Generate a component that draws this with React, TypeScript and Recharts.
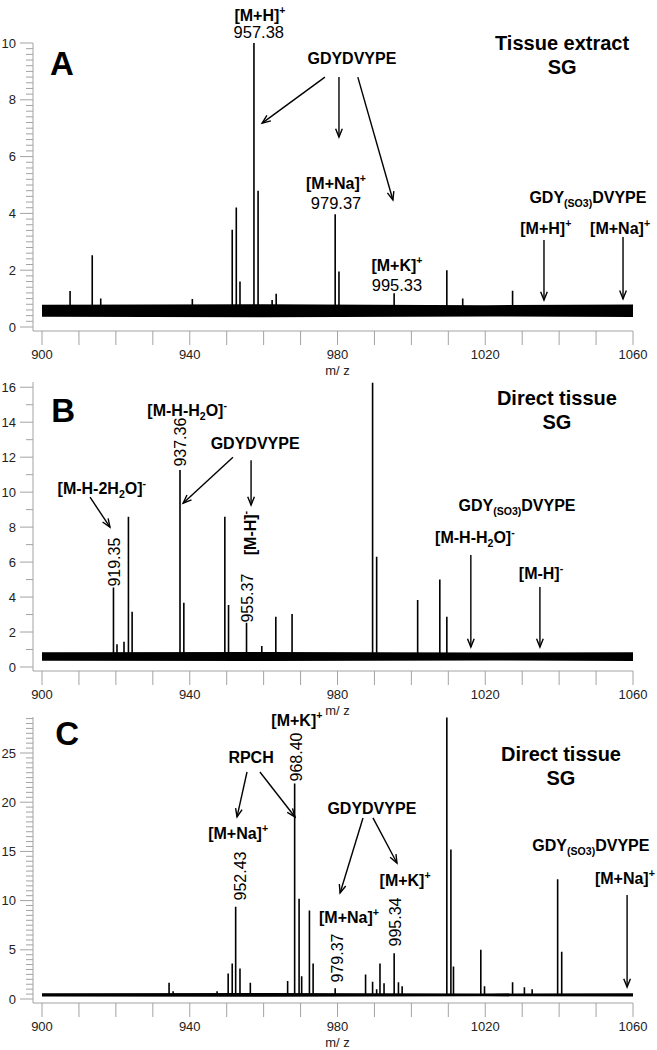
import { Area, ComposedChart, Line, ReferenceDot, ReferenceLine, XAxis, YAxis } from 'recharts';

const FONT = '"Liberation Sans", Arial, Helvetica, sans-serif';
const AXIS_GRAY = '#a3a3a3';

// m/z axis
const mzTicks = [900, 910, 920, 930, 940, 950, 960, 970, 980, 990, 1000, 1010, 1020, 1030, 1040, 1050, 1060];
const mzLabels = [900, 940, 980, 1020, 1060];

// intensity axes (labelled ticks)
const yMajorA = [0, 2, 4, 6, 8, 10];
const yMajorB = [0, 2, 4, 6, 8, 10, 12, 14, 16];
const yMajorC = [0, 5, 10, 15, 20, 25];

// peaks: [m/z, intensity]
const peaksA: [number, number][] = [
  [907.6, 1.27], [913.6, 2.53], [915.9, 1.0], [940.7, 0.99], [951.5, 3.42], [952.6, 4.21],
  [953.6, 1.6], [957.38, 10.0], [958.5, 4.8], [962.3, 0.95], [963.4, 1.17], [979.37, 3.97],
  [980.4, 1.95], [995.33, 1.19], [1009.6, 2.0], [1013.9, 1.0], [1027.4, 1.28],
];
const peaksB: [number, number][] = [
  [919.35, 4.55], [920.3, 1.3], [922.2, 1.45], [923.4, 8.6], [924.4, 3.16], [937.36, 11.26],
  [938.4, 3.68], [949.5, 8.6], [950.5, 3.54], [955.37, 2.53], [959.5, 1.2], [963.3, 2.87],
  [967.7, 3.03], [989.5, 16.25], [990.6, 6.3], [1001.7, 3.83], [1007.7, 5.0], [1009.6, 2.87],
];
const peaksC: [number, number][] = [
  [934.4, 1.66], [935.5, 0.8], [947.4, 0.8], [950.4, 2.6], [951.5, 3.6], [952.43, 9.38],
  [953.6, 3.1], [956.4, 1.66], [966.5, 1.83], [968.4, 21.9], [969.6, 10.2], [970.3, 2.3],
  [972.4, 9.0], [973.4, 3.6], [979.37, 1.1], [987.6, 2.5], [989.5, 1.76], [990.6, 1.0],
  [991.5, 3.6], [992.6, 1.6], [995.34, 4.64], [996.5, 1.7], [997.5, 1.3], [1009.6, 28.6],
  [1010.7, 15.2], [1011.4, 3.3], [1018.8, 5.0], [1019.8, 1.3], [1027.4, 1.7], [1030.6, 1.2],
  [1032.7, 1.0], [1039.6, 12.16], [1040.7, 4.8],
];

// baseline noise envelope: [m/z, low, high]
const noiseA: [number, number, number][] = [[900, 0.36, 0.78], [960, 0.34, 0.8], [1020, 0.37, 0.77], [1060, 0.35, 0.79]];
const noiseB: [number, number, number][] = [[900, 0.36, 0.84], [960, 0.34, 0.86], [1020, 0.37, 0.83], [1060, 0.35, 0.85]];
const noiseC: [number, number, number][] = [[900, 0.26, 0.58], [960, 0.24, 0.6], [1020, 0.27, 0.57], [1060, 0.25, 0.58]];

// annotations in data coords: [m/z, intensity, text, style]
type Note = [number, number, string, string];
const notesA: Note[] = [
  [905.4, 9.3, 'A', 'letter'],
  [959.0, 10.99, '[M+H]^+', 'bold'],
  [958.7, 10.39, '957.38', 'num'],
  [983.9, 9.47, 'GDYDVYPE', 'bold'],
  [1040.8, 10.0, 'Tissue extract', 'title'],
  [1040.8, 9.15, 'SG', 'title'],
  [979.6, 5.07, '[M+Na]^+', 'bold'],
  [979.6, 4.37, '979.37', 'num'],
  [996.1, 2.18, '[M+K]^+', 'bold'],
  [996.1, 1.48, '995.33', 'num'],
  [1047.8, 4.58, 'GDY_(SO3)DVYPE', 'bold'],
  [1036.4, 3.49, '[M+H]^+', 'bold'],
  [1056.5, 3.49, '[M+Na]^+', 'bold'],
];
const notesB: Note[] = [
  [905.7, 14.69, 'B', 'letter'],
  [939.3, 14.69, '[M-H-H_2O]^-', 'bold'],
  [937.4, 12.86, '937.36', 'rot'],
  [957.7, 12.8, 'GDYDVYPE', 'bold'],
  [956.3, 7.66, '[M-H]^-', 'rotbold'],
  [916.2, 10.23, '[M-H-2H_2O]^-', 'bold'],
  [919.5, 6.0, '919.35', 'rot'],
  [955.5, 3.94, '955.37', 'rot'],
  [1039.4, 15.37, 'Direct tissue', 'title'],
  [1039.4, 14.0, 'SG', 'title'],
  [1028.6, 9.26, 'GDY_(SO3)DVYPE', 'bold'],
  [1017.2, 7.43, '[M-H-H_2O]^-', 'bold'],
  [1035.1, 5.37, '[M-H]^-', 'bold'],
];
const notesC: Note[] = [
  [906.8, 27.03, 'C', 'letter'],
  [969.0, 28.35, '[M+K]^+', 'bold'],
  [968.8, 24.6, '968.40', 'rot'],
  [956.6, 24.6, 'RPCH', 'bold'],
  [953.1, 16.87, '[M+Na]^+', 'bold'],
  [953.6, 12.5, '952.43', 'rot'],
  [989.3, 19.41, 'GDYDVYPE', 'bold'],
  [983.1, 8.33, '[M+Na]^+', 'bold'],
  [979.9, 4.17, '979.37', 'rot'],
  [998.3, 12.09, '[M+K]^+', 'bold'],
  [995.6, 7.83, '995.34', 'rot'],
  [1040.5, 24.9, 'Direct tissue', 'title'],
  [1040.5, 22.46, 'SG', 'title'],
  [1048.6, 15.65, 'GDY_(SO3)DVYPE', 'bold'],
  [1057.8, 12.3, '[M+Na]^+', 'bold'],
];

// arrows: [fromMz, fromI, toMz, toI]
const arrowsA = [
  [976.6, 8.8, 959.6, 7.18], [980.4, 8.8, 980.4, 6.69], [985.5, 8.8, 995.0, 4.47],
  [1035.9, 3.06, 1035.9, 0.95], [1057.3, 3.17, 1057.3, 0.99],
];
const arrowsB = [
  [913.0, 9.71, 918.4, 8.0], [951.7, 12.0, 938.2, 9.37], [956.6, 11.83, 956.6, 9.26],
  [1016.1, 6.4, 1016.1, 1.14], [1034.8, 4.57, 1034.8, 1.14],
];
const arrowsC = [
  [955.5, 23.07, 952.8, 18.5], [959.0, 23.07, 968.5, 18.5], [986.9, 18.4, 980.7, 10.77],
  [989.6, 18.4, 996.1, 13.82], [1058.4, 10.57, 1058.4, 1.22],
];

const STYLES: Record<string, { size: number; bold: boolean; rot: boolean }> = {
  letter: { size: 33, bold: true, rot: false },
  bold: { size: 16, bold: true, rot: false },
  title: { size: 20, bold: true, rot: false },
  num: { size: 16.5, bold: false, rot: false },
  rot: { size: 16, bold: false, rot: true },
  rotbold: { size: 16, bold: true, rot: true },
};

function parseRich(s: string) {
  const out: { t: string; k: string }[] = [];
  let buf = '';
  for (let i = 0; i < s.length; i++) {
    const c = s[i];
    if ((c === '^' || c === '_') && i + 1 < s.length) {
      if (buf) { out.push({ t: buf, k: 'n' }); buf = ''; }
      let t;
      if (s[i + 1] === '(') { const j = s.indexOf(')', i); t = s.slice(i + 1, j + 1); i = j; }
      else { t = s[i + 1]; i++; }
      out.push({ t, k: c === '^' ? 'sup' : 'sub' });
    } else buf += c;
  }
  if (buf) out.push({ t: buf, k: 'n' });
  return out;
}

const RichText = ({ cx, cy, text, style }: any) => {
  const st = STYLES[style];
  const size = st.size;
  let off = 0;
  const kids = parseRich(text).map((s, i) => {
    const target = s.k === 'sup' ? -size * 0.42 : s.k === 'sub' ? size * 0.28 : 0;
    const dy = target - off;
    off = target;
    return (
      <tspan key={i} dy={dy} fontSize={s.k === 'n' ? size : size * 0.66}>{s.t}</tspan>
    );
  });
  return (
    <text
      x={cx}
      y={cy + size * 0.36}
      textAnchor="middle"
      fontFamily={FONT}
      fontWeight={st.bold ? 700 : 400}
      fontSize={size}
      fill="#000"
      transform={st.rot ? `rotate(-90 ${cx} ${cy})` : undefined}
    >
      {kids}
    </text>
  );
};

const ArrowShape = (p: any) => {
  const { x1, y1, x2, y2 } = p;
  const ang = Math.atan2(y2 - y1, x2 - x1);
  const L = 9;
  const a = 0.38;
  const hx1 = x2 - L * Math.cos(ang - a);
  const hy1 = y2 - L * Math.sin(ang - a);
  const hx2 = x2 - L * Math.cos(ang + a);
  const hy2 = y2 - L * Math.sin(ang + a);
  return (
    <g>
      <line x1={x1} y1={y1} x2={x2} y2={y2} stroke="#000" strokeWidth={1.4} />
      <polyline points={`${hx1},${hy1} ${x2},${y2} ${hx2},${hy2}`} fill="none" stroke="#000" strokeWidth={1.4} />
    </g>
  );
};

const XTick = (p: any) => {
  const v = p.payload?.value;
  if (!mzLabels.includes(v)) return <g />;
  return (
    <g>
      <text x={p.x} y={p.y + 11.5} textAnchor="middle" fontSize={13} fontFamily={FONT} fill="#222">{v}</text>
      {v === 980 && (
        <text x={p.x} y={p.y + 28} textAnchor="middle" fontSize={13} fontFamily={FONT} fill="#222">m/ z</text>
      )}
    </g>
  );
};

const makeYTick = (majors: number[]) => (p: any) => {
  const v = p.payload?.value;
  const maj = majors.includes(v);
  return (
    <g>
      <line x1={p.x - (maj ? 13 : 7)} x2={p.x} y1={p.y} y2={p.y} stroke={AXIS_GRAY} />
      {maj && (
        <text x={p.x - 17} y={p.y + 4.6} textAnchor="end" fontSize={13} fontFamily={FONT} fill="#222">{v}</text>
      )}
    </g>
  );
};

function sticks(peaks: [number, number][], base: number) {
  const pts = [{ x: 900, y: base }];
  peaks.forEach(([mz, h]) => {
    pts.push({ x: mz, y: base }, { x: mz, y: h }, { x: mz, y: base });
  });
  pts.push({ x: 1060, y: base });
  return pts;
}

type PanelProps = {
  top: number;
  height: number;
  yMax: number;
  majors: number[];
  minorStep: number;
  peaks: [number, number][];
  noise: [number, number, number][];
  base: number;
  notes: Note[];
  arrows: number[][];
};

const Panel = ({ top, height, yMax, majors, minorStep, peaks, noise, base, notes, arrows }: PanelProps) => {
  const last = majors[majors.length - 1];
  const n = Math.floor((yMax + 1e-6) / minorStep);
  const yTicks = Array.from({ length: n + 1 }, (_, i) => +(i * minorStep).toFixed(2)).filter((t) => t <= yMax);
  const band = noise.map(([x, lo, hi]) => ({ x, band: [lo, hi] }));
  void last;
  return (
    <div style={{ position: 'absolute', left: 0, top, width: 657, height }}>
      <ComposedChart width={657} height={height} margin={{ top: 43, right: 24, bottom: 0, left: 0 }}>
        <XAxis
          dataKey="x"
          type="number"
          domain={[900, 1060]}
          allowDataOverflow
          ticks={mzTicks}
          interval={0}
          padding={{ left: 9, right: 0 }}
          height={47}
          tickSize={14}
          tickMargin={2}
          stroke={AXIS_GRAY}
          axisLine={{ stroke: AXIS_GRAY }}
          tickLine={{ stroke: AXIS_GRAY }}
          tick={(p: any) => <XTick {...p} />}
        />
        <YAxis
          type="number"
          domain={[0, yMax]}
          allowDataOverflow
          ticks={yTicks}
          interval={0}
          width={33}
          padding={{ top: 0, bottom: 4 }}
          tickSize={0}
          tickMargin={0}
          tickLine={false}
          axisLine={{ stroke: AXIS_GRAY }}
          tick={makeYTick(majors)}
        />
        <Area data={band} dataKey="band" type="linear" stroke="none" fill="#000" fillOpacity={1} isAnimationActive={false} />
        <Line data={sticks(peaks, base)} dataKey="y" type="linear" stroke="#000" strokeWidth={1.6} dot={false} isAnimationActive={false} />
        {arrows.map((a, i) => (
          <ReferenceLine
            key={`a${i}`}
            segment={[{ x: a[0], y: a[1] }, { x: a[2], y: a[3] }]}
            ifOverflow="visible"
            shape={ArrowShape}
          />
        ))}
        {notes.map((nt, i) => (
          <ReferenceDot
            key={`n${i}`}
            x={nt[0]}
            y={nt[1]}
            r={0}
            ifOverflow="visible"
            shape={(p: any) => <RichText cx={p.cx} cy={p.cy} text={nt[2]} style={nt[3]} />}
          />
        ))}
      </ComposedChart>
    </div>
  );
};

export default function App() {
  return (
    <div style={{ position: 'absolute', left: 0, top: 0, width: 657, height: 1050, background: '#fff' }}>
      <Panel top={0} height={378} yMax={10} majors={yMajorA} minorStep={0.2} peaks={peaksA} noise={noiseA} base={0.56} notes={notesA} arrows={arrowsA} />
      <Panel top={339} height={379} yMax={16.3} majors={yMajorB} minorStep={1} peaks={peaksB} noise={noiseB} base={0.6} notes={notesB} arrows={arrowsB} />
      <Panel top={674} height={376} yMax={28.66} majors={yMajorC} minorStep={0.5} peaks={peaksC} noise={noiseC} base={0.42} notes={notesC} arrows={arrowsC} />
    </div>
  );
}
